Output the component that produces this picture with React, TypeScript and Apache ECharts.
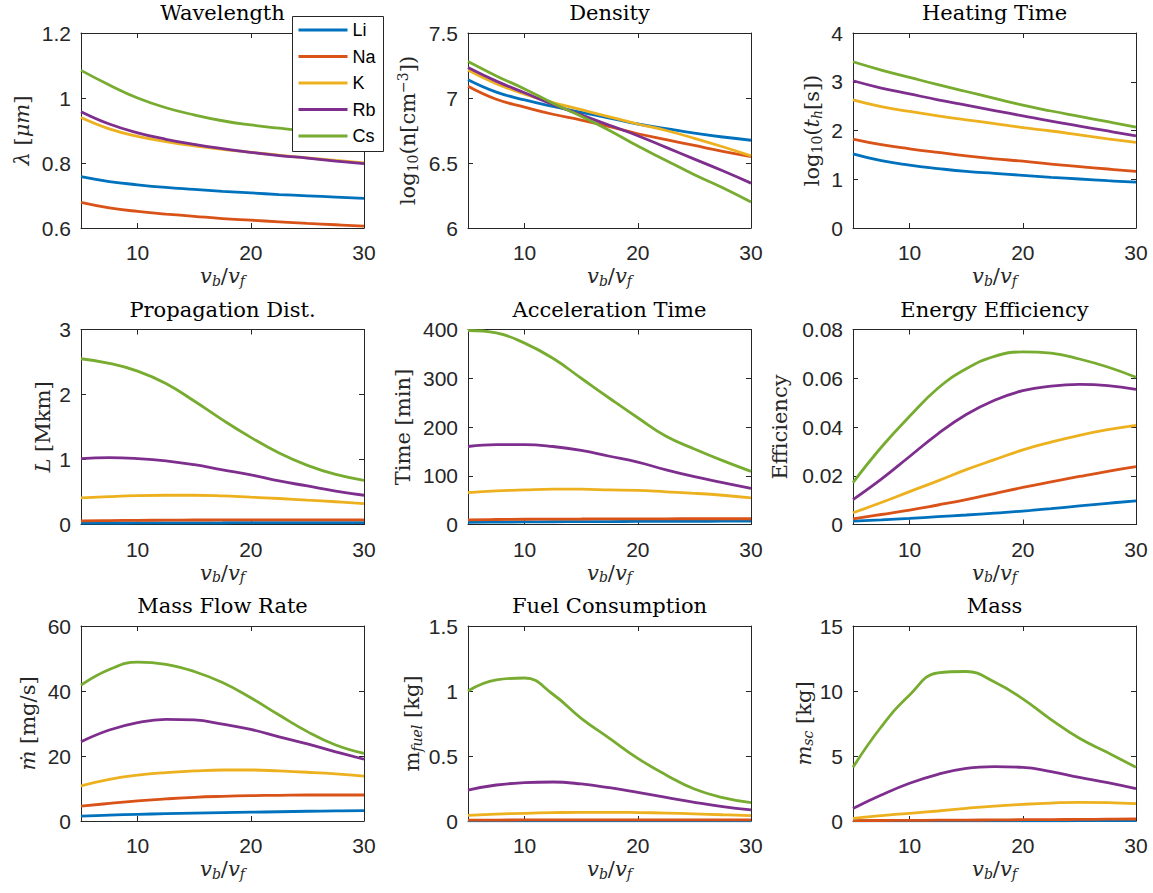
import React, { useEffect, useRef } from 'react';
import * as echarts from 'echarts';

// ---------- data ----------
const X = [5, 7.5, 10, 12.5, 15, 17.5, 20, 22.5, 25, 27.5, 30];
const SPECIES = ['Li', 'Na', 'K', 'Rb', 'Cs'];
const COLORS = ['#0072BD', '#D95319', '#EDB120', '#7E2F8E', '#77AC30'];

// order of rows in each panel: Li, Na, K, Rb, Cs
const WAVELENGTH = [
  [0.758, 0.743, 0.733, 0.725, 0.719, 0.713, 0.708, 0.703, 0.699, 0.695, 0.691],
  [0.679, 0.662, 0.651, 0.643, 0.636, 0.629, 0.624, 0.619, 0.614, 0.61, 0.606],
  [0.94, 0.905, 0.882, 0.866, 0.853, 0.842, 0.833, 0.824, 0.816, 0.808, 0.8],
  [0.958, 0.92, 0.893, 0.873, 0.857, 0.844, 0.833, 0.823, 0.815, 0.806, 0.798],
  [1.085, 1.04, 1.0, 0.97, 0.948, 0.93, 0.917, 0.907, 0.898, 0.891, 0.885],
];
const DENSITY = [
  [7.14, 7.045, 6.985, 6.935, 6.89, 6.845, 6.8, 6.765, 6.73, 6.7, 6.675],
  [7.09, 6.99, 6.93, 6.875, 6.83, 6.78, 6.725, 6.68, 6.635, 6.59, 6.55],
  [7.215, 7.11, 7.03, 6.965, 6.91, 6.855, 6.8, 6.75, 6.69, 6.625, 6.555],
  [7.235, 7.13, 7.04, 6.95, 6.87, 6.79, 6.71, 6.62, 6.53, 6.44, 6.345],
  [7.28, 7.17, 7.07, 6.96, 6.86, 6.75, 6.63, 6.52, 6.41, 6.31, 6.2],
];
const HEATING = [
  [1.52, 1.38, 1.29, 1.22, 1.16, 1.12, 1.08, 1.04, 1.005, 0.97, 0.94],
  [1.825, 1.71, 1.625, 1.55, 1.48, 1.42, 1.37, 1.31, 1.26, 1.21, 1.16],
  [2.63, 2.49, 2.39, 2.3, 2.22, 2.14, 2.06, 1.99, 1.91, 1.83, 1.755],
  [3.02, 2.87, 2.75, 2.63, 2.52, 2.41, 2.3, 2.19, 2.09, 1.99, 1.89],
  [3.41, 3.24, 3.09, 2.94, 2.8, 2.66, 2.52, 2.4, 2.29, 2.18, 2.07],
];
const PROPAGATION = [
  [0.02, 0.022, 0.024, 0.025, 0.026, 0.027, 0.028, 0.028, 0.029, 0.029, 0.03],
  [0.055, 0.06, 0.064, 0.067, 0.069, 0.07, 0.071, 0.071, 0.071, 0.07, 0.07],
  [0.41, 0.43, 0.445, 0.45, 0.45, 0.44, 0.42, 0.4, 0.375, 0.35, 0.32],
  [1.015, 1.03, 1.015, 0.98, 0.92, 0.84, 0.763, 0.67, 0.593, 0.515, 0.45],
  [2.55, 2.48, 2.36, 2.17, 1.9, 1.61, 1.34, 1.1, 0.91, 0.77, 0.68],
];
const ACCEL_TIME = [
  [4.5, 5, 5.3, 5.6, 5.9, 6.1, 6.3, 6.5, 6.6, 6.8, 6.9],
  [9.5, 10.3, 10.8, 11.1, 11.3, 11.5, 11.6, 11.7, 11.8, 11.8, 11.8],
  [65.5, 69, 71, 72.4, 72.4, 71, 70, 67, 64, 60, 54.5],
  [160, 164, 164, 160, 152, 140, 128, 112, 98, 86, 74],
  [398, 393, 372, 341, 300, 259, 219, 181, 155, 131, 109],
];
const EFFICIENCY = [
  [0.0014, 0.0019, 0.0025, 0.0032, 0.0039, 0.0047, 0.0055, 0.0065, 0.0076, 0.0087, 0.0097],
  [0.0023, 0.0041, 0.0059, 0.008, 0.0102, 0.0127, 0.0152, 0.0175, 0.0197, 0.0218, 0.0237],
  [0.0048, 0.009, 0.0135, 0.0179, 0.0225, 0.0266, 0.0306, 0.0338, 0.0366, 0.0389, 0.0407],
  [0.0102, 0.0186, 0.0279, 0.0372, 0.0451, 0.051, 0.0549, 0.0568, 0.0575, 0.057, 0.0554],
  [0.0172, 0.0317, 0.0444, 0.0559, 0.0639, 0.069, 0.0708, 0.0703, 0.0679, 0.0646, 0.0604],
];
const MASS_FLOW = [
  [1.5, 1.8, 2.05, 2.25, 2.4, 2.55, 2.7, 2.85, 3.0, 3.1, 3.2],
  [4.6, 5.4, 6.2, 6.8, 7.3, 7.6, 7.8, 7.9, 8.0, 8.0, 8.0],
  [10.8, 12.8, 14.1, 14.9, 15.4, 15.7, 15.7, 15.4, 15.0, 14.5, 13.8],
  [24.4, 28, 30.3, 31.3, 31.1, 29.8, 28.2, 25.9, 23.7, 21.3, 19],
  [41.8, 46.6, 48.9, 48.2, 46.0, 42.6, 37.9, 32.6, 27.5, 23.4, 20.8],
];
const FUEL = [
  [0.001, 0.001, 0.0015, 0.0015, 0.0015, 0.0015, 0.0015, 0.0015, 0.0015, 0.0015, 0.0015],
  [0.006, 0.007, 0.008, 0.008, 0.009, 0.009, 0.009, 0.009, 0.009, 0.009, 0.009],
  [0.044, 0.053, 0.059, 0.064, 0.067, 0.067, 0.065, 0.061, 0.055, 0.048, 0.041],
  [0.238, 0.277, 0.295, 0.3, 0.285, 0.256, 0.22, 0.182, 0.144, 0.11, 0.085],
  [1.0, 1.085, 1.1, 0.975, 0.79, 0.636, 0.482, 0.354, 0.246, 0.18, 0.141],
];
const MASS = [
  [0.005, 0.008, 0.01, 0.012, 0.014, 0.016, 0.018, 0.02, 0.022, 0.024, 0.026],
  [0.03, 0.04, 0.05, 0.06, 0.07, 0.085, 0.1, 0.11, 0.125, 0.14, 0.155],
  [0.2, 0.41, 0.59, 0.77, 0.97, 1.15, 1.28, 1.38, 1.44, 1.41, 1.33],
  [0.97, 2.0, 2.9, 3.59, 4.05, 4.18, 4.13, 3.8, 3.36, 2.95, 2.49],
  [4.13, 7.25, 9.7, 11.4, 11.5, 10.7, 9.4, 7.8, 6.36, 5.26, 4.13],
];

const PANELS = [WAVELENGTH, DENSITY, HEATING, PROPAGATION, ACCEL_TIME, EFFICIENCY, MASS_FLOW, FUEL, MASS];
const TITLES = [
  'Wavelength', 'Density', 'Heating Time',
  'Propagation Dist.', 'Acceleration Time', 'Energy Efficiency',
  'Mass Flow Rate', 'Fuel Consumption', 'Mass',
];
const Y_LABELS = [
  '{it|λ} [{it|μm}]',
  'log{sub|10}(n[cm{sup|−3}])',
  'log{sub|10}({it|t}{subi|h}[s])',
  '{it|L} [Mkm]',
  'Time [min]',
  'Efficiency',
  '{it|ṁ} [mg/s]',
  'm{subi|fuel} [kg]',
  '{it|m}{subi|sc} [kg]',
];
const X_LABEL = '{it|v}{subi|b}/{it|v}{subi|f}';
const Y_MIN = [0.6, 6, 0, 0, 0, 0, 0, 0, 0];
const Y_MAX = [1.2, 7.5, 4, 3, 400, 0.08, 60, 1.5, 15];
const Y_STEP = [0.2, 0.5, 1, 1, 100, 0.02, 20, 0.5, 5];
const X_MIN = 5;
const X_MAX = 30;
const X_TICKS = [10, 20, 30];

// ---------- layout ----------
const COL_LEFT = [81, 468, 853];
const ROW_TOP = [33, 329.5, 626];
const PW = 283;
const PH = 195;
const Y_NAME_CENTER = [59, 60, 41, 36, 65, 73, 53, 56, 48];
const SERIF = '"DejaVu Serif", "Liberation Serif", serif';
const SANS = '"Liberation Sans", Arial, Helvetica, sans-serif';
const INK = '#262626';
const LH = 24;
const NAME_FS = 21;

const richStyles = {
  it: { fontFamily: SERIF, fontStyle: 'italic', fontSize: NAME_FS, color: INK, lineHeight: LH },
  sub: { fontFamily: SERIF, fontSize: 14, color: INK, padding: [9, 0, 0, 0], lineHeight: LH },
  subi: { fontFamily: SERIF, fontStyle: 'italic', fontSize: 14, color: INK, padding: [9, 0, 0, 0], lineHeight: LH },
  sup: { fontFamily: SERIF, fontSize: 14, color: INK, padding: [0, 0, 11, 0], lineHeight: LH },
};

function buildOption() {
  const grid: any[] = [];
  const xAxis: any[] = [];
  const yAxis: any[] = [];
  const series: any[] = [];
  const graphic: any[] = [];

  PANELS.forEach((panel, p) => {
    const r = Math.floor(p / 3);
    const c = p % 3;
    const left = COL_LEFT[c];
    const top = ROW_TOP[r];
    grid.push({ left, top, width: PW, height: PH, containLabel: false, show: false });

    const lineStyle = { color: INK, width: 1 };
    const nameStyle = { fontFamily: SERIF, fontSize: NAME_FS, color: INK, lineHeight: LH, rich: richStyles };

    xAxis.push({
      type: 'value', gridIndex: p, min: X_MIN, max: X_MAX, position: 'bottom',
      axisLine: { show: true, onZero: false, lineStyle },
      axisTick: { show: true, inside: true, length: 5, lineStyle, customValues: X_TICKS },
      axisLabel: { show: true, customValues: X_TICKS, margin: 14, fontFamily: SANS, fontSize: 21, color: INK },
      splitLine: { show: false },
      name: X_LABEL, nameLocation: 'middle', nameGap: 36, nameTextStyle: nameStyle,
    });
    xAxis.push({
      type: 'value', gridIndex: p, min: X_MIN, max: X_MAX, position: 'top',
      axisLine: { show: true, onZero: false, lineStyle },
      axisTick: { show: true, inside: true, length: 5, lineStyle, customValues: X_TICKS },
      axisLabel: { show: false },
      splitLine: { show: false },
    });
    yAxis.push({
      type: 'value', gridIndex: p, min: Y_MIN[p], max: Y_MAX[p], interval: Y_STEP[p], position: 'left',
      axisLine: { show: true, onZero: false, lineStyle },
      axisTick: { show: true, inside: true, length: 5, lineStyle },
      axisLabel: { show: true, margin: 10, fontFamily: SANS, fontSize: 21, color: INK },
      splitLine: { show: false },
      name: Y_LABELS[p], nameLocation: 'middle', nameGap: Y_NAME_CENTER[p] - LH / 2,
      nameTextStyle: nameStyle,
    });
    yAxis.push({
      type: 'value', gridIndex: p, min: Y_MIN[p], max: Y_MAX[p], interval: Y_STEP[p], position: 'right',
      axisLine: { show: true, onZero: false, lineStyle },
      axisTick: { show: true, inside: true, length: 5, lineStyle },
      axisLabel: { show: false },
      splitLine: { show: false },
    });

    panel.forEach((vals, s) => {
      series.push({
        type: 'line',
        name: SPECIES[s],
        xAxisIndex: p * 2,
        yAxisIndex: p * 2,
        data: X.map((x, i) => [x, vals[i]]),
        symbol: 'none',
        smooth: 0.45,
        clip: true,
        lineStyle: { width: 2.8, color: COLORS[s] },
        itemStyle: { color: COLORS[s] },
        z: 2 + s,
      });
    });

    graphic.push({
      type: 'text',
      x: left + PW / 2,
      y: top - 20,
      style: {
        text: TITLES[p],
        fontFamily: SERIF,
        fontSize: 21,
        fill: '#000',
        align: 'center',
        verticalAlign: 'middle',
      },
      z: 10,
    });
  });

  return {
    animation: false,
    backgroundColor: '#ffffff',
    grid,
    xAxis,
    yAxis,
    series,
    graphic,
    legend: {
      data: SPECIES.map((name) => ({ name, icon: 'rect' })),
      orient: 'vertical',
      left: 292.5,
      top: 16.5,
      itemWidth: 49,
      itemHeight: 3,
      itemGap: 6.5,
      padding: [3.5, 8, 5.5, 6],
      backgroundColor: '#ffffff',
      borderColor: INK,
      borderWidth: 1,
      borderRadius: 0,
      textStyle: { fontFamily: SANS, fontSize: 18, color: '#000', lineHeight: 20 },
      z: 20,
    },
  };
}

export default function App() {
  const ref = useRef<HTMLDivElement>(null);
  useEffect(() => {
    if (!ref.current) return;
    const chart = echarts.init(ref.current, undefined, { renderer: 'svg' });
    chart.setOption(buildOption() as any);
    return () => chart.dispose();
  }, []);
  return (
    <div
      ref={ref}
      style={{ position: 'absolute', left: 0, top: 0, width: 1153, height: 893, background: '#fff' }}
    />
  );
}
